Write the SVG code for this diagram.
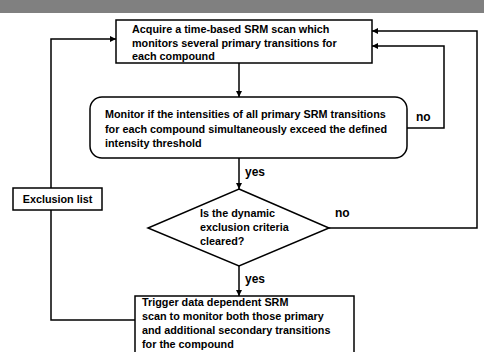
<svg xmlns="http://www.w3.org/2000/svg" width="484" height="352" viewBox="0 0 484 352">
<style>
.box{fill:#fff;stroke:#000;stroke-width:1.5}
.ln{fill:none;stroke:#000;stroke-width:1.5}
text{font-family:"Liberation Sans",Arial,sans-serif;font-weight:bold;font-size:10.8px;fill:#000}
.lbl{font-size:12px}
</style>
<defs>
<marker id="ah" viewBox="0 0 10 10" refX="10" refY="5" markerWidth="6" markerHeight="6" markerUnits="userSpaceOnUse" orient="auto">
<path d="M0,0 L10,5 L0,10 z" fill="#000"/>
</marker>
</defs>
<rect x="0" y="0" width="484" height="13" fill="#808080"/>
<g id="connectors">
<path class="ln" d="M239,63 L239,97" marker-end="url(#ah)"/>
<path class="ln" d="M239,158 L239,189" marker-end="url(#ah)"/>
<path class="ln" d="M239,266 L239,296" marker-end="url(#ah)"/>
<path class="ln" d="M407,128 L444,128 L444,46 L372,46" marker-end="url(#ah)"/>
<path class="ln" d="M329,228 L477,228 L477,31 L372,31" marker-end="url(#ah)"/>
<path class="ln" d="M135,320 L51,320 L51,210"/>
<path class="ln" d="M51,188 L51,39 L116,39" marker-end="url(#ah)"/>
<text class="lbl" x="416" y="121">no</text>
<text class="lbl" x="335" y="217">no</text>
<text class="lbl" x="245" y="176">yes</text>
<text class="lbl" x="245" y="283">yes</text>
</g>
<g id="acquire">
<rect class="box" x="116" y="20" width="256" height="43"/>
<text x="132" y="33">Acquire a time-based SRM scan which</text>
<text x="132" y="47">monitors several primary transitions for</text>
<text x="132" y="60">each compound</text>
</g>
<g id="monitor">
<rect class="box" x="90" y="97" width="317" height="61" rx="12" ry="12"/>
<text x="105" y="118">Monitor if the intensities of all primary SRM transitions</text>
<text x="105" y="133">for each compound simultaneously exceed the defined</text>
<text x="105" y="147">intensity threshold</text>
</g>
<g id="decision">
<polygon class="box" points="239,189 329,228 239,266 148,228"/>
<text x="200" y="217">Is the dynamic</text>
<text x="200" y="231">exclusion criteria</text>
<text x="200" y="245">cleared?</text>
</g>
<g id="exclusion">
<rect class="box" x="13" y="188" width="89" height="22"/>
<text x="57.5" y="203" text-anchor="middle">Exclusion list</text>
</g>
<g id="trigger">
<rect class="box" x="135" y="296" width="219" height="70"/>
<text x="142" y="306">Trigger data dependent SRM</text>
<text x="142" y="320">scan to monitor both those primary</text>
<text x="142" y="334">and additional secondary transitions</text>
<text x="142" y="348">for the compound</text>
</g>
</svg>
